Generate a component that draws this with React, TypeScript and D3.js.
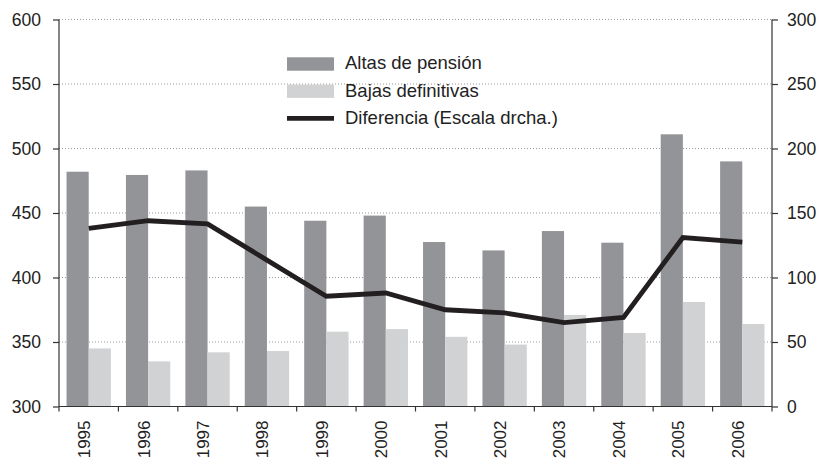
import React, { useEffect, useRef } from 'react'
import * as d3 from 'd3'

const years = ['1995', '1996', '1997', '1998', '1999', '2000', '2001', '2002', '2003', '2004', '2005', '2006']
const altas = [482, 479.5, 483, 455, 444, 448, 427.5, 421, 436, 427, 511, 490]
const bajas = [345, 335, 342, 343, 358, 360, 354, 348, 371, 357, 381, 364]
const diferencia = [138, 144, 141.5, 113.5, 85.5, 88, 75, 72.5, 65, 69, 131, 127.5]
const leftTicks = [300, 350, 400, 450, 500, 550, 600]
const rightTicks = [0, 50, 100, 150, 200, 250, 300]
const legendLabels = ['Altas de pensión', 'Bajas definitivas', 'Diferencia (Escala drcha.)']

const W = 821
const H = 460
const margin = { top: 19.5, right: 49, bottom: 53.5, left: 59 }

export default function App() {
    const ref = useRef<SVGSVGElement>(null)

    useEffect(() => {
        const svg = d3.select(ref.current)
        svg.selectAll('*').remove()
        const width = W - margin.left - margin.right
        const height = H - margin.top - margin.bottom
        const font = 'Liberation Sans, Arial, sans-serif'

        const x = d3.scaleBand().domain(years).range([0, width])
        const inner = d3.scaleBand().domain(['a', 'b']).range([0, x.bandwidth()]).paddingOuter(0.34).paddingInner(0)
        const yL = d3.scaleLinear().domain([300, 600]).range([height, 0])
        const yR = d3.scaleLinear().domain([0, 300]).range([height, 0])

        const g = svg.append('g').attr('transform', `translate(${margin.left},${margin.top})`)

        // dotted grid
        g.append('g').selectAll('line').data(leftTicks.slice(1)).join('line')
            .attr('x1', 0).attr('x2', width)
            .attr('y1', d => yL(d)).attr('y2', d => yL(d))
            .attr('stroke', '#9a9a9a').attr('stroke-width', 1).attr('stroke-dasharray', '1,2')

        // bars
        g.append('g').selectAll('rect').data(altas).join('rect')
            .attr('x', (d, i) => x(years[i])! + inner('a')!)
            .attr('width', inner.bandwidth())
            .attr('y', d => yL(d)).attr('height', d => height - yL(d))
            .attr('fill', '#939498')
        g.append('g').selectAll('rect').data(bajas).join('rect')
            .attr('x', (d, i) => x(years[i])! + inner('b')!)
            .attr('width', inner.bandwidth())
            .attr('y', d => yL(d)).attr('height', d => height - yL(d))
            .attr('fill', '#d1d2d4')

        // line on right scale
        const line = d3.line<number>().x((d, i) => x(years[i])! + x.bandwidth() / 2).y(d => yR(d))
        g.append('path').datum(diferencia).attr('d', line)
            .attr('fill', 'none').attr('stroke', '#231f20').attr('stroke-width', 4.8)
            .attr('stroke-linejoin', 'miter')

        // axes
        const axisColor = '#333'
        const leftAxis = g.append('g').call(d3.axisLeft(yL).tickValues(leftTicks).tickSize(6).tickPadding(12))
        const rightAxis = g.append('g').attr('transform', `translate(${width},0)`)
            .call(d3.axisRight(yR).tickValues(rightTicks).tickSize(6).tickPadding(9))
        g.append('line').attr('x1', 0).attr('x2', width).attr('y1', height).attr('y2', height)
            .attr('stroke', axisColor).attr('stroke-width', 1.2)
        g.append('g').selectAll('line').data(d3.range(years.length + 1)).join('line')
            .attr('x1', d => d * x.step()).attr('x2', d => d * x.step())
            .attr('y1', height).attr('y2', height + 5)
            .attr('stroke', axisColor).attr('stroke-width', 1.2)
        g.append('g').selectAll('text').data(years).join('text')
            .attr('transform', d => `translate(${x(d)! + x.bandwidth() / 2 - 4.5},${height + 14})rotate(-90)`)
            .attr('dy', '0.35em')
            .attr('text-anchor', 'end')
            .style('font-family', font).style('font-size', '17px').attr('fill', '#222')
            .text(d => d)

        for (const ax of [leftAxis, rightAxis]) {
            ax.select('.domain').attr('stroke', axisColor).attr('stroke-width', 1.2)
                .attr('d', `M0,0V${height}`)
            ax.selectAll('.tick line').attr('stroke', axisColor).attr('stroke-width', 1.2)
            ax.selectAll('.tick text').style('font-family', font).style('font-size', '17.5px').attr('fill', '#222')
        }

        // legend
        const lg = g.append('g').attr('transform', `translate(${287 - margin.left},${64 - margin.top})`)
        legendLabels.forEach((label, i) => {
            const row = lg.append('g').attr('transform', `translate(0,${i * 27.2})`)
            if (i < 2) {
                row.append('rect').attr('x', 0).attr('y', -6.7).attr('width', 47).attr('height', 13.4)
                    .attr('fill', i === 0 ? '#939498' : '#d1d2d4')
            } else {
                row.append('line').attr('x1', 0).attr('x2', 47).attr('y1', 0).attr('y2', 0)
                    .attr('stroke', '#231f20').attr('stroke-width', 4.8)
            }
            row.append('text').attr('x', 58).attr('y', -1).attr('dy', '0.35em')
                .style('font-family', font).style('font-size', '18.5px').attr('fill', '#222')
                .text(label)
        })
    })

    return (
        <svg ref={ref} width={W} height={H} style={{ position: 'absolute', left: 0, top: 0, background: '#fff' }} />
    )
}
